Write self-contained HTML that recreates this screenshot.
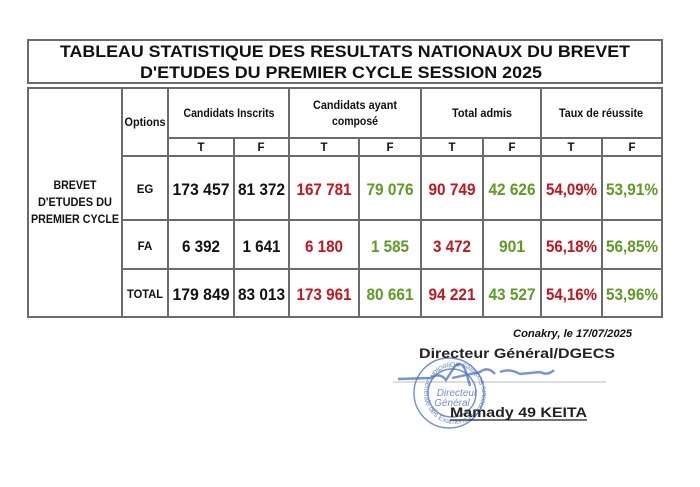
<!DOCTYPE html>
<html><head><meta charset="utf-8"><style>
html,body{margin:0;padding:0;background:#fff;}
svg{display:block;}
text{font-family:"Liberation Sans",Arial,sans-serif;font-weight:bold;}
</style></head><body>
<svg width="700" height="487" viewBox="0 0 700 487" xmlns="http://www.w3.org/2000/svg">
<defs>
<path id="ring" d="M455 362 A31 31 0 1 0 455.1 362"/>
</defs>
<rect width="700" height="487" fill="#fff"/>
<!-- title box -->
<rect x="28" y="40" width="634" height="43" fill="none" stroke="#6b6b6b" stroke-width="2"/>
<text x="345" y="57" font-size="17" text-anchor="middle" fill="#111" textLength="570" lengthAdjust="spacingAndGlyphs">TABLEAU STATISTIQUE DES RESULTATS NATIONAUX  DU BREVET</text>
<text x="341" y="78" font-size="17" text-anchor="middle" fill="#111" textLength="402" lengthAdjust="spacingAndGlyphs">D'ETUDES DU PREMIER CYCLE SESSION 2025</text>

<!-- table grid -->
<g stroke="#6b6b6b" stroke-width="2" fill="none">
<rect x="28" y="88" width="634" height="229"/>
<line x1="122" y1="88" x2="122" y2="317"/>
<line x1="168" y1="88" x2="168" y2="317"/>
<line x1="289" y1="88" x2="289" y2="317"/>
<line x1="421" y1="88" x2="421" y2="317"/>
<line x1="541" y1="88" x2="541" y2="317"/>
<line x1="234" y1="138" x2="234" y2="317"/>
<line x1="359" y1="138" x2="359" y2="317"/>
<line x1="483" y1="138" x2="483" y2="317"/>
<line x1="602" y1="138" x2="602" y2="317"/>
<line x1="168" y1="138" x2="662" y2="138"/>
<line x1="122" y1="156" x2="662" y2="156"/>
<line x1="122" y1="220" x2="662" y2="220"/>
<line x1="122" y1="269" x2="662" y2="269"/>
</g>

<!-- headers -->
<g font-size="11.5" fill="#111" text-anchor="middle">
<text x="145" y="126" textLength="41" lengthAdjust="spacingAndGlyphs">Options</text>
<text x="229" y="117" textLength="91" lengthAdjust="spacingAndGlyphs">Candidats Inscrits</text>
<text x="355" y="109" textLength="84" lengthAdjust="spacingAndGlyphs">Candidats ayant</text>
<text x="355" y="125" textLength="46" lengthAdjust="spacingAndGlyphs">composé</text>
<text x="482" y="117" textLength="60" lengthAdjust="spacingAndGlyphs">Total admis</text>
<text x="601" y="117" textLength="84" lengthAdjust="spacingAndGlyphs">Taux de réussite</text>
<text x="201" y="151">T</text><text x="261" y="151">F</text>
<text x="324" y="151">T</text><text x="390" y="151">F</text>
<text x="452" y="151">T</text><text x="512" y="151">F</text>
<text x="571" y="151">T</text><text x="632" y="151">F</text>
<text x="75" y="189" textLength="43" lengthAdjust="spacingAndGlyphs">BREVET</text>
<text x="75" y="206" textLength="74" lengthAdjust="spacingAndGlyphs">D'ETUDES DU</text>
<text x="75" y="223" textLength="88" lengthAdjust="spacingAndGlyphs">PREMIER CYCLE</text>
<text x="145" y="193">EG</text>
<text x="145" y="250">FA</text>
<text x="145" y="298" textLength="36" lengthAdjust="spacingAndGlyphs">TOTAL</text>
</g>

<!-- data -->
<g font-size="16.5" text-anchor="middle">
<g fill="#111">
<text x="201" y="195" textLength="57" lengthAdjust="spacingAndGlyphs">173 457</text>
<text x="261.5" y="195" textLength="47" lengthAdjust="spacingAndGlyphs">81 372</text>
<text x="201" y="252" textLength="38" lengthAdjust="spacingAndGlyphs">6 392</text>
<text x="261.5" y="252" textLength="38" lengthAdjust="spacingAndGlyphs">1 641</text>
<text x="201" y="300" textLength="57" lengthAdjust="spacingAndGlyphs">179 849</text>
<text x="261.5" y="300" textLength="47" lengthAdjust="spacingAndGlyphs">83 013</text>
</g>
<g fill="#c4151f">
<text x="324" y="195" textLength="55" lengthAdjust="spacingAndGlyphs">167 781</text>
<text x="452" y="195" textLength="47" lengthAdjust="spacingAndGlyphs">90 749</text>
<text x="571.5" y="195" textLength="51" lengthAdjust="spacingAndGlyphs">54,09%</text>
<text x="324" y="252" textLength="38" lengthAdjust="spacingAndGlyphs">6 180</text>
<text x="452" y="252" textLength="38" lengthAdjust="spacingAndGlyphs">3 472</text>
<text x="571.5" y="252" textLength="51" lengthAdjust="spacingAndGlyphs">56,18%</text>
<text x="324" y="300" textLength="55" lengthAdjust="spacingAndGlyphs">173 961</text>
<text x="452" y="300" textLength="47" lengthAdjust="spacingAndGlyphs">94 221</text>
<text x="571.5" y="300" textLength="51" lengthAdjust="spacingAndGlyphs">54,16%</text>
</g>
<g fill="#5f9a22">
<text x="390" y="195" textLength="47" lengthAdjust="spacingAndGlyphs">79 076</text>
<text x="512" y="195" textLength="47" lengthAdjust="spacingAndGlyphs">42 626</text>
<text x="632" y="195" textLength="52" lengthAdjust="spacingAndGlyphs">53,91%</text>
<text x="390" y="252" textLength="38" lengthAdjust="spacingAndGlyphs">1 585</text>
<text x="512" y="252" textLength="26" lengthAdjust="spacingAndGlyphs">901</text>
<text x="632" y="252" textLength="52" lengthAdjust="spacingAndGlyphs">56,85%</text>
<text x="390" y="300" textLength="47" lengthAdjust="spacingAndGlyphs">80 661</text>
<text x="512" y="300" textLength="47" lengthAdjust="spacingAndGlyphs">43 527</text>
<text x="632" y="300" textLength="52" lengthAdjust="spacingAndGlyphs">53,96%</text>
</g>
</g>

<!-- signature block -->
<line x1="393" y1="382" x2="606" y2="382" stroke="#bbb" stroke-width="1"/>
<g fill="none" stroke="#5a7bc0" stroke-width="1.4" opacity="0.85">
<circle cx="449" cy="393" r="35"/>
<circle cx="452" cy="393" r="24"/>
</g>
<text font-size="7.5" fill="#5a7bc0" opacity="0.85" style="font-weight:normal"><textPath href="#ring">Direction Générale des Examens et Concours Scolaires ★</textPath></text>
<g fill="#5a7bc0" opacity="0.85" font-style="italic">
<text x="457" y="396" font-size="10" text-anchor="middle" style="font-weight:normal">Directeur</text>
<text x="452" y="406" font-size="10" text-anchor="middle" style="font-weight:normal">Général</text>
</g>
<path d="M398 379 L430 378 Q440 372 446 380 L455 366 Q462 360 466 372 L470 386 M452 378 L480 372 Q488 366 495 374 M500 372 Q510 368 520 374 L540 372 Q548 376 554 370" fill="none" stroke="#4a6fc0" stroke-width="2.4" opacity="0.75"/>
<text x="632" y="337" font-size="11" font-style="italic" text-anchor="end" fill="#111" textLength="119" lengthAdjust="spacingAndGlyphs">Conakry, le 17/07/2025</text>
<text x="419" y="358" font-size="13.5" fill="#222" textLength="196" lengthAdjust="spacingAndGlyphs">Directeur Général/DGECS</text>
<text x="450" y="417" font-size="13.5" fill="#222" textLength="137" lengthAdjust="spacingAndGlyphs">Mamady 49 KEITA</text>
<line x1="450" y1="420" x2="587" y2="420" stroke="#222" stroke-width="1.3"/>
</svg>
</body></html>
